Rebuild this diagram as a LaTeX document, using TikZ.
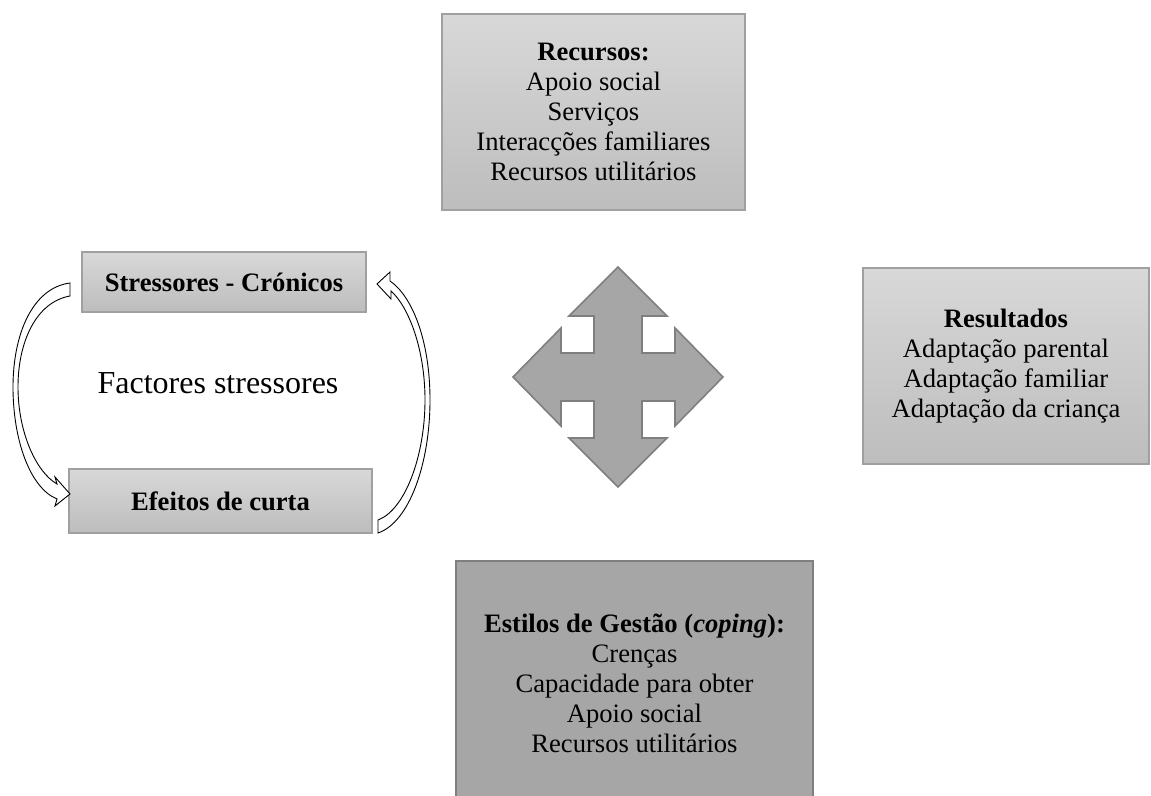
\documentclass[tikz,border=0pt]{standalone}
\usepackage{fontspec}
\setmainfont{Liberation Serif}
\definecolor{gtop}{HTML}{D8D8D8}
\definecolor{gbot}{HTML}{BDBDBD}
\definecolor{gedge}{HTML}{A0A0A0}
\definecolor{dfill}{HTML}{A6A6A6}
\definecolor{dedge}{HTML}{7F7F7F}
\tikzset{
  gradbox/.style={rectangle, draw=gedge, line width=0.6pt, top color=gtop, bottom color=gbot, align=center, inner sep=0pt, font=\fontsize{13.3}{15}\selectfont},
  darkbox/.style={rectangle, draw=dedge, line width=0.9pt, fill=dfill, align=center, inner sep=0pt, font=\fontsize{13.3}{15}\selectfont},
  blockarrow/.style={draw=black, fill=white, line width=0.45pt, line join=miter},
  crossarrow/.style={draw=dedge, fill=dfill, line width=0.8pt, line join=miter}
}
\begin{document}
\begin{tikzpicture}[x=0.5pt, y=-0.5pt]
\clip (0,0) rectangle (1151,796);
\fill[white] (0,0) rectangle (1151,796);

% boxes
\node[gradbox, minimum width=151.5pt, minimum height=98pt] (rec) at (593.5,112)
  {\textbf{Recursos:}\\Apoio social\\Serviços\\Interacções familiares\\Recursos utilitários};
\node[gradbox, minimum width=142pt, minimum height=30pt] (str) at (224,282)
  {\textbf{Stressores - Crónicos}};
\node[gradbox, minimum width=151.5pt, minimum height=32pt] (efe) at (220.5,501)
  {\textbf{Efeitos de curta}};
\node[gradbox, minimum width=143pt, minimum height=98pt] (res) at (1006,366)
  {\textbf{Resultados}\\Adaptação parental\\Adaptação familiar\\Adaptação da criança};
\node[darkbox, minimum width=178.5pt, minimum height=122pt] (est) at (634.5,683)
  {\textbf{Estilos de Gestão (\textit{coping}):}\\Crenças\\Capacidade para obter\\Apoio social\\Recursos utilitários};

\node[font=\fontsize{16}{18}\selectfont] (fac) at (218,383) {Factores stressores};

% four-way arrow
\coordinate (c) at (618,377);
\draw[crossarrow, shift={(c)}]
  (0,-110) -- (49,-61) -- (24,-61) -- (24,-24) -- (57,-24) -- (57,-49) -- (105,0)
  -- (57,49) -- (57,24) -- (24,24) -- (24,61) -- (49,61) -- (0,110) -- (-49,61)
  -- (-24,61) -- (-24,24) -- (-57,24) -- (-57,49) -- (-105,0) -- (-57,-49)
  -- (-57,-24) -- (-24,-24) -- (-24,-61) -- (-49,-61) -- cycle;

% left curved block arrow (Stressores -> Efeitos)
\draw[blockarrow]
  (70,283) .. controls (32,288) and (13,335) .. (13,387)
  .. controls (13,440) and (30,488) .. (57,499)
  -- (55,506) -- (70,494) -- (55,477) -- (57,484)
  .. controls (36,472) and (18,432) .. (18,387)
  .. controls (18,342) and (36,302) .. (70,296) -- cycle;

% right curved block arrow (Efeitos -> Stressores)
\draw[blockarrow]
  (378,533) .. controls (410,522) and (430,462) .. (430,400)
  .. controls (430,340) and (412,296) .. (390,281)
  -- (390,272) -- (377,284) -- (391,299) -- (391,291)
  .. controls (408,306) and (425,348) .. (425,400)
  .. controls (425,456) and (405,510) .. (378,520) -- cycle;
\end{tikzpicture}
\end{document}
